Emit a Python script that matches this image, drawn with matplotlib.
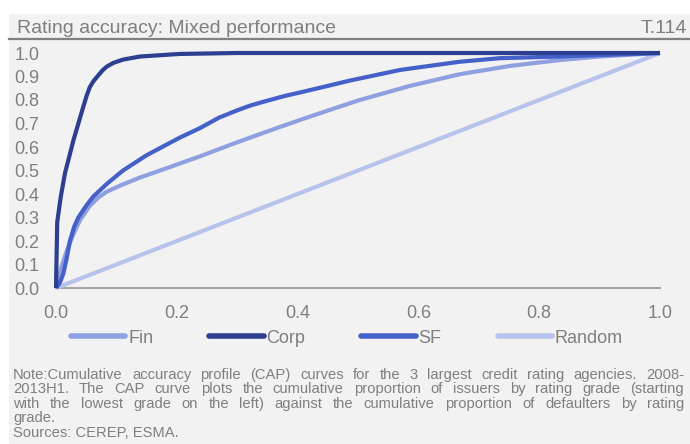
import matplotlib
matplotlib.use("Agg")
import matplotlib.pyplot as plt
from matplotlib.lines import Line2D
from matplotlib.patches import Rectangle

# ---- data ----
fin_x = [0, 0.004, 0.009, 0.018, 0.029, 0.04, 0.056, 0.07, 0.084, 0.11, 0.139, 0.189, 0.238, 0.30,
         0.354, 0.404, 0.45, 0.503, 0.586, 0.669, 0.752, 0.834, 0.90, 1.0]
fin_y = [0, 0.04, 0.09, 0.16, 0.23, 0.29, 0.35, 0.385, 0.41, 0.44, 0.47, 0.515, 0.56, 0.62,
         0.67, 0.715, 0.755, 0.80, 0.86, 0.91, 0.945, 0.97, 0.985, 1.0]
corp_x = [0, 0.002, 0.008, 0.015, 0.029, 0.045, 0.051, 0.056, 0.062, 0.07, 0.077, 0.084, 0.095,
          0.111, 0.139, 0.205, 0.3, 1.0]
corp_y = [0, 0.28, 0.39, 0.49, 0.63, 0.77, 0.82, 0.855, 0.88, 0.905, 0.926, 0.942, 0.958,
          0.972, 0.985, 0.996, 1.0, 1.0]
sf_x = [0, 0.006, 0.012, 0.018, 0.023, 0.030, 0.037, 0.05, 0.062, 0.085, 0.111, 0.15, 0.205,
        0.238, 0.27, 0.299, 0.32, 0.34, 0.354, 0.38, 0.404, 0.45, 0.487, 0.57, 0.669, 0.735,
        0.834, 0.90, 1.0]
sf_y = [0, 0.02, 0.06, 0.13, 0.20, 0.26, 0.30, 0.35, 0.39, 0.445, 0.50, 0.565, 0.64,
        0.68, 0.725, 0.755, 0.775, 0.79, 0.80, 0.818, 0.832, 0.86, 0.883, 0.928, 0.963, 0.978,
        0.985, 0.991, 1.0]
rand_x = [0, 1.0]
rand_y = [0, 1.0]

series_names = ["Fin", "Corp", "SF", "Random"]
colors = ["#8fa0e0", "#2c3f90", "#4560c8", "#b8c3ec"]
x_ticks = [0.0, 0.2, 0.4, 0.6, 0.8, 1.0]
y_ticks = [0.0, 0.1, 0.2, 0.3, 0.4, 0.5, 0.6, 0.7, 0.8, 0.9, 1.0]

title = "Rating accuracy: Mixed performance"
code = "T.114"
note_lines = [
    "Note:Cumulative accuracy profile (CAP) curves for the 3 largest credit rating agencies. 2008-",
    "2013H1. The CAP curve plots the cumulative proportion of issuers by rating grade (starting",
    "with the lowest grade on the left) against the cumulative proportion of defaulters by rating",
    "grade.",
    "Sources: CEREP, ESMA.",
]
justify = [True, True, True, False, False]

plt.rcParams["font.family"] = ["Liberation Sans", "DejaVu Sans"]
TXT = "#7f7f7f"

W, H = 690, 444
fig = plt.figure(figsize=(W / 100, H / 100), dpi=100)
fig.patch.set_facecolor("white")

def fx(px):
    return px / W

def fy(py):
    return 1 - py / H

fig.patches.append(Rectangle((fx(9), 0), 1 - fx(9), fy(14), transform=fig.transFigure,
                             facecolor="#f2f2f2", edgecolor="none", zorder=-5))
fig.add_artist(Line2D([fx(9), 1], [fy(39), fy(39)], transform=fig.transFigure,
                      color="#808080", lw=1.6))
fig.text(fx(17), fy(33), title, fontsize=14, color=TXT, va="baseline", ha="left")
fig.text(fx(687), fy(33), code, fontsize=14, color=TXT, va="baseline", ha="right")

ax = fig.add_axes([fx(56), fy(288), fx(660) - fx(56), fy(53) - fy(288)])
ax.set_zorder(2)
ax.set_facecolor("none")
data = [(fin_x, fin_y), (corp_x, corp_y), (sf_x, sf_y), (rand_x, rand_y)]
order = [3, 0, 2, 1]
for k, i in enumerate(order):
    xs, ys = data[i]
    ax.plot(xs, ys, color=colors[i], lw=3, clip_on=False, solid_joinstyle="round",
            solid_capstyle="butt", zorder=3 + k)
ax.set_xlim(0, 1)
ax.set_ylim(0, 1)
ax.set_xticks(x_ticks)
ax.set_xticklabels([f"{v:.1f}" for v in x_ticks])
ax.set_yticks(y_ticks)
ax.set_yticklabels([f"{v:.1f}" for v in y_ticks])
ax.tick_params(axis="both", length=0, labelsize=13, labelcolor=TXT)
ax.tick_params(axis="y", pad=12)
ax.tick_params(axis="x", pad=12)
for s in ["top", "right", "left"]:
    ax.spines[s].set_visible(False)
ax.spines["bottom"].set_color("#a6a6a6")
ax.spines["bottom"].set_linewidth(1.5)
ax.spines["bottom"].set_zorder(2)

handles = [Line2D([], [], color=c, lw=4, solid_capstyle="round") for c in colors]
leg = fig.legend(handles, series_names, loc="center", bbox_to_anchor=(fx(347), fy(338)),
                 ncol=4, frameon=False, fontsize=13, handlelength=3.0, handletextpad=0.17,
                 columnspacing=3.1, borderpad=0, borderaxespad=0)
for t in leg.get_texts():
    t.set_color(TXT)

# ---- justified note ----
renderer = fig.canvas.get_renderer()
x0, x1 = 13, 684
base = 379
step = 14.4
fs = 10.6
for li, (line, just) in enumerate(zip(note_lines, justify)):
    yb = fy(base + li * step)
    if not just:
        fig.text(fx(x0), yb, line, fontsize=fs, color=TXT, va="baseline", ha="left")
        continue
    words = line.split(" ")
    arts = [fig.text(0, yb, w, fontsize=fs, color=TXT, va="baseline", ha="left") for w in words]
    widths = [a.get_window_extent(renderer).width for a in arts]
    gap = (x1 - x0 - sum(widths)) / (len(words) - 1)
    xp = x0
    for a, w in zip(arts, widths):
        a.set_x(fx(xp))
        xp += w + gap

fig.savefig("out.png", dpi=100, facecolor=fig.get_facecolor())
